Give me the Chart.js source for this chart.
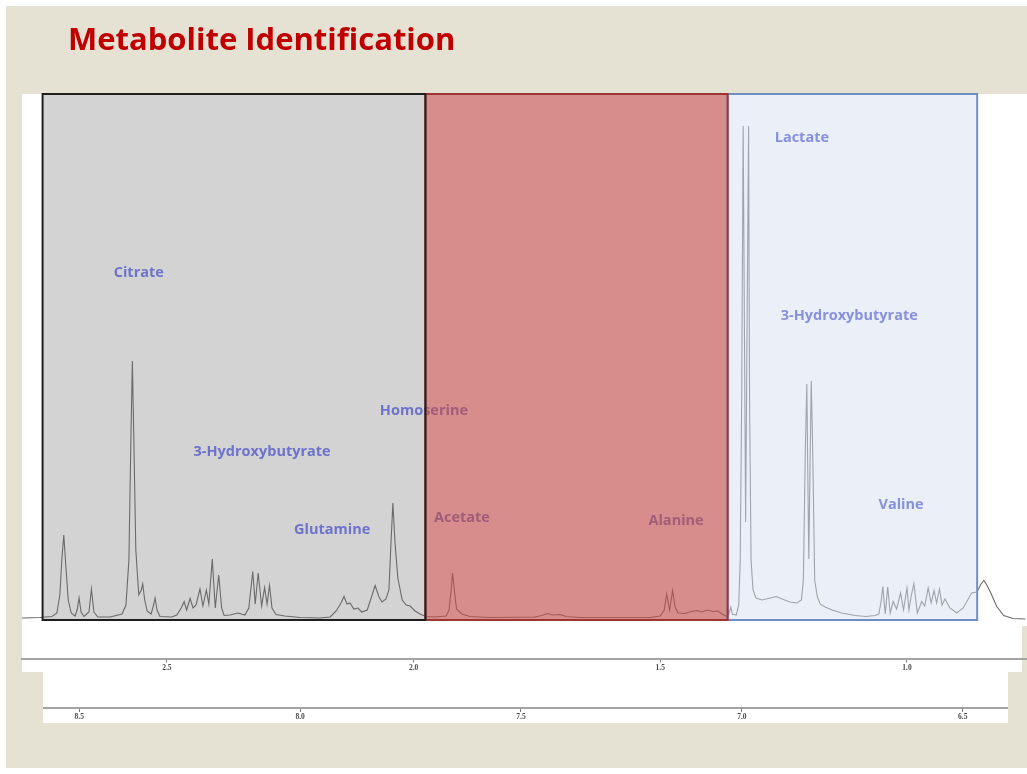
<!DOCTYPE html>
<html>
<head>
<meta charset="utf-8">
<script src="https://cdn.jsdelivr.net/npm/chart.js@4.4.1/dist/chart.umd.min.js"></script>
<style>
  html, body { margin: 0; padding: 0; background: #ffffff; overflow: hidden; }
  #wrap { position: relative; width: 1027px; height: 774px; }
  canvas { display: block; }
</style>
</head>
<body>
<div id="wrap"><canvas id="nmr" width="1027" height="774"></canvas></div>
<script>
// 1H NMR spectrum, [chemical shift (ppm), intensity] pairs, traced by zone
const spectrumAliphaticZone = [
  [2.794,0.0],[2.757,0.1],[2.733,0.3],[2.723,1.0],[2.717,4.6],[2.713,11.6],[2.709,16.6],[2.705,10.6],
  [2.700,3.6],[2.694,1.0],[2.686,0.4],[2.682,1.6],[2.678,4.0],[2.674,1.2],[2.668,0.3],[2.658,1.2],
  [2.653,5.8],[2.648,1.2],[2.640,0.2],[2.615,0.2],[2.591,0.8],[2.583,2.6],[2.577,11.6],[2.573,35.6],
  [2.570,51.4],[2.567,35.6],[2.563,13.6],[2.557,4.6],[2.552,5.6],[2.549,6.8],[2.545,3.6],[2.540,1.4],
  [2.532,0.8],[2.527,2.6],[2.524,4.0],[2.520,1.6],[2.514,0.3],[2.490,0.2],[2.480,0.6],[2.471,2.0],
  [2.465,3.3],[2.460,1.6],[2.453,3.9],[2.447,2.0],[2.441,2.6],[2.433,5.8],[2.427,2.4],[2.420,5.6],
  [2.415,2.8],[2.408,11.8],[2.402,2.0],[2.395,8.6],[2.389,2.0],[2.384,0.5],[2.372,0.6],[2.356,1.0],
  [2.342,0.6],[2.334,2.0],[2.326,9.3],[2.321,2.8],[2.315,9.0],[2.308,2.4],[2.302,6.1],[2.297,2.8],
  [2.292,6.5],[2.287,2.0],[2.279,0.7],[2.261,0.4],[2.230,0.1],[2.190,0.0],[2.169,0.2],[2.157,1.4],
  [2.147,3.0],[2.141,4.3],[2.135,2.8],[2.129,3.0],[2.121,1.8],[2.113,2.0],[2.105,1.2],[2.094,1.6],
  [2.086,4.0],[2.078,6.5],[2.070,4.2],[2.064,3.2],[2.056,3.8],[2.050,5.6],[2.046,14.6],[2.042,23.0],
  [2.038,15.6],[2.032,8.0],[2.023,3.6],[2.015,2.6],[2.007,2.4],[1.997,1.4],[1.987,0.8],[1.975,0.3]
];
const spectrumAcetateZone = [
  [1.957,0.2],[1.934,0.4],[1.928,1.6],[1.924,5.6],[1.921,9.0],[1.917,5.2],[1.913,1.8],[1.902,0.8],
  [1.886,0.3],[1.845,0.1],[1.754,0.2],[1.740,0.5],[1.729,0.9],[1.719,0.6],[1.703,0.7],[1.691,0.3],
  [1.663,0.1],[1.521,0.1],[1.500,0.4],[1.492,1.6],[1.487,4.8],[1.481,1.6],[1.475,5.5],[1.470,2.2],
  [1.464,1.0],[1.450,0.9],[1.437,1.3],[1.425,1.5],[1.415,1.2],[1.405,1.6],[1.393,1.3],[1.383,1.4],
  [1.375,0.8],[1.365,0.3]
];
const spectrumMethylZone = [
  [1.361,0.8],[1.357,2.2],[1.354,0.8],[1.346,0.6],[1.341,2.6],[1.338,11.6],[1.335,43.6],[1.332,98.4],
  [1.327,19.2],[1.321,98.4],[1.319,43.6],[1.316,11.6],[1.312,5.6],[1.306,4.0],[1.294,3.6],[1.277,4.0],
  [1.265,4.3],[1.253,3.8],[1.237,3.2],[1.223,3.0],[1.214,3.6],[1.210,7.6],[1.206,33.6],[1.203,46.8],
  [1.199,11.8],[1.194,47.4],[1.191,33.6],[1.187,7.6],[1.182,4.4],[1.176,2.8],[1.166,2.2],[1.152,1.6],
  [1.132,1.0],[1.105,0.5],[1.083,0.3],[1.065,0.5],[1.057,0.8],[1.052,3.6],[1.049,6.3],[1.044,0.8],
  [1.039,6.2],[1.034,1.0],[1.028,3.3],[1.021,1.8],[1.013,5.0],[1.007,1.6],[1.000,6.0],[0.996,1.6],
  [0.991,4.6],[0.986,6.9],[0.979,1.0],[0.970,3.3],[0.964,2.4],[0.957,6.0],[0.951,3.0],[0.945,5.5],
  [0.940,3.0],[0.934,5.8],[0.929,2.6],[0.923,3.8],[0.913,2.0],[0.899,1.0],[0.886,2.0],[0.869,5.0],
  [0.858,5.2]
];
const spectrumUpfieldTail = [
  [0.850,6.8],[0.844,7.5],[0.838,6.6],[0.831,5.2],[0.818,2.3],[0.804,0.5],[0.785,-0.1],[0.760,-0.2]
];

// axis tick values (ppm)
const shiftTicks = [2.5, 2.0, 1.5, 1.0];
const aromaticTicks = [8.5, 8.0, 7.5, 7.0, 6.5];

// highlighted shift windows (ppm)
const windowStart = [2.752, 1.976, 1.3635];
const windowEnd = [1.976, 1.3635, 0.8577];

// metabolite assignments
const metaboliteNames = ['Citrate', '3-Hydroxybutyrate', 'Glutamine', 'Homoserine', 'Acetate',
  'Alanine', 'Lactate', '3-Hydroxybutyrate', 'Valine'];
const metaboliteShift = [2.557, 2.307, 2.165, 1.979, 1.902, 1.468, 1.213, 1.117, 1.012];
const metaboliteLevel = [69, 33.2, 17.6, 41.4, 20, 19.4, 96, 60.4, 22.6];

const spectrum = [].concat(spectrumAliphaticZone, spectrumAcetateZone, spectrumMethylZone, spectrumUpfieldTail)
  .map(([x, y]) => ({ x, y }));

const BEIGE = '#e6e2d3';
const GRAY_FILL = '#d3d3d3';
const BLUE_FILL = '#ebeff8';
const RED_FILL = 'rgba(192, 80, 77, 0.65)';
const LABEL_BLUE = '#6d72cc';
const LABEL_LIGHT = '#8790dd';
const WINDOW_FLOOR = -0.4;

function windowBox(chart, i) {
  const { x, y } = chart.scales;
  return {
    l: x.getPixelForValue(windowStart[i]),
    r: x.getPixelForValue(windowEnd[i]),
    t: y.getPixelForValue(y.max),
    b: y.getPixelForValue(WINDOW_FLOOR)
  };
}

function inMethylWindow(ppm) {
  return ppm <= windowStart[2] && ppm >= windowEnd[2];
}

const slidePlugin = {
  id: 'slidePlugin',
  beforeDraw(chart) {
    const { ctx, chartArea: a, scales } = chart;
    const x2 = scales.x2;
    ctx.save();
    ctx.fillStyle = '#ffffff';
    ctx.fillRect(0, 0, chart.width, chart.height);
    ctx.fillStyle = BEIGE;
    ctx.fillRect(6, 6, chart.width - 6, chart.height - 12);
    // title
    ctx.fillStyle = '#c00000';
    ctx.font = 'bold 31px "Open Sans"';
    ctx.textBaseline = 'alphabetic';
    ctx.textAlign = 'left';
    ctx.fillText('Metabolite Identification', 68, 50);
    // white spectrum panels
    ctx.fillStyle = '#ffffff';
    ctx.fillRect(a.left, a.top, chart.width - a.left, 626 - a.top);
    ctx.fillRect(a.left, 626, 1022 - a.left, 672 - 626);
    ctx.fillRect(43, 672, 1008 - 43, x2.bottom - 672);
    ctx.restore();
  },
  beforeDatasetsDraw(chart) {
    // opaque window fills below the trace
    const { ctx } = chart;
    ctx.save();
    const g = windowBox(chart, 0);
    ctx.fillStyle = GRAY_FILL;
    ctx.fillRect(g.l, g.t, g.r - g.l, g.b - g.t);
    const bl = windowBox(chart, 2);
    ctx.fillStyle = BLUE_FILL;
    ctx.fillRect(bl.l, bl.t, bl.r - bl.l, bl.b - bl.t);
    ctx.restore();
  },
  afterDatasetsDraw(chart) {
    const { ctx, scales: { x, y } } = chart;
    ctx.save();
    // metabolite labels
    ctx.font = 'bold 14.5px "Open Sans"';
    ctx.textAlign = 'center';
    ctx.textBaseline = 'middle';
    metaboliteNames.forEach((name, i) => {
      ctx.fillStyle = inMethylWindow(metaboliteShift[i]) ? LABEL_LIGHT : LABEL_BLUE;
      ctx.fillText(name, x.getPixelForValue(metaboliteShift[i]), y.getPixelForValue(metaboliteLevel[i]));
    });
    // translucent red window over trace and labels
    const r = windowBox(chart, 1);
    ctx.fillStyle = RED_FILL;
    ctx.fillRect(r.l, r.t, r.r - r.l, r.b - r.t);
    // outlines: blue, then red, then black on top
    ctx.lineWidth = 2;
    const bl = windowBox(chart, 2);
    ctx.strokeStyle = '#6f8fc2';
    ctx.strokeRect(bl.l, bl.t, bl.r - bl.l, bl.b - bl.t);
    ctx.strokeStyle = '#9e3533';
    ctx.strokeRect(r.l, r.t, r.r - r.l, r.b - r.t);
    const g = windowBox(chart, 0);
    ctx.strokeStyle = '#1e1e1e';
    ctx.strokeRect(g.l, g.t, g.r - g.l, g.b - g.t);
    ctx.restore();
  },
  afterDraw(chart) {
    const { ctx, scales: { x2 } } = chart;
    ctx.save();
    ctx.strokeStyle = '#a3a3a3';
    ctx.lineWidth = 2;
    ctx.beginPath();
    ctx.moveTo(43, x2.top);
    ctx.lineTo(1008, x2.top);
    ctx.stroke();
    ctx.restore();
  }
};

const tickFont = { family: '"Liberation Serif"', size: 7.5, weight: 'bold' };

function build() {
  new Chart(document.getElementById('nmr'), {
    type: 'line',
    data: {
      datasets: [{
        data: spectrum,
        borderColor: '#6a6a6a',
        borderWidth: 1.1,
        pointRadius: 0,
        tension: 0,
        fill: false,
        segment: {
          borderColor: c => (inMethylWindow(c.p0.parsed.x) && inMethylWindow(c.p1.parsed.x)) ? '#9fa3ad' : undefined
        }
      }]
    },
    options: {
      responsive: false,
      animation: false,
      devicePixelRatio: 1,
      layout: { padding: { left: 22, right: 0, top: 94, bottom: 51 } },
      plugins: { legend: { display: false }, tooltip: { enabled: false }, title: { display: false } },
      scales: {
        x: {
          type: 'linear',
          position: 'bottom',
          reverse: true,
          min: 0.7567,
          max: 2.7937,
          afterBuildTicks: s => { s.ticks = shiftTicks.map(v => ({ value: v })); },
          afterFit: s => { s.height = 49.5; },
          ticks: { callback: v => Number(v).toFixed(1), font: tickFont, color: '#4a4a4a', padding: 1, maxRotation: 0, autoSkip: false },
          grid: { drawOnChartArea: false, drawTicks: true, tickLength: 4, color: '#777777' },
          border: { display: true, color: '#a3a3a3', width: 2 }
        },
        x2: {
          type: 'linear',
          position: 'bottom',
          reverse: true,
          min: 6.3545,
          max: 8.6296,
          afterBuildTicks: s => { s.ticks = aromaticTicks.map(v => ({ value: v })); },
          afterFit: s => { s.height = 15; },
          ticks: { callback: v => Number(v).toFixed(1), font: tickFont, color: '#4a4a4a', padding: 1, maxRotation: 0, autoSkip: false },
          grid: { drawOnChartArea: false, drawTicks: true, tickLength: 4, color: '#777777' },
          border: { display: false }
        },
        y: { display: false, min: -8.1, max: 104.8 }
      }
    },
    plugins: [slidePlugin]
  });
}

if (document.fonts && document.fonts.load) {
  Promise.all([
    document.fonts.load('bold 31px "Open Sans"'),
    document.fonts.load('bold 8px "Liberation Serif"')
  ]).then(build, build);
} else {
  build();
}
</script>
</body>
</html>
